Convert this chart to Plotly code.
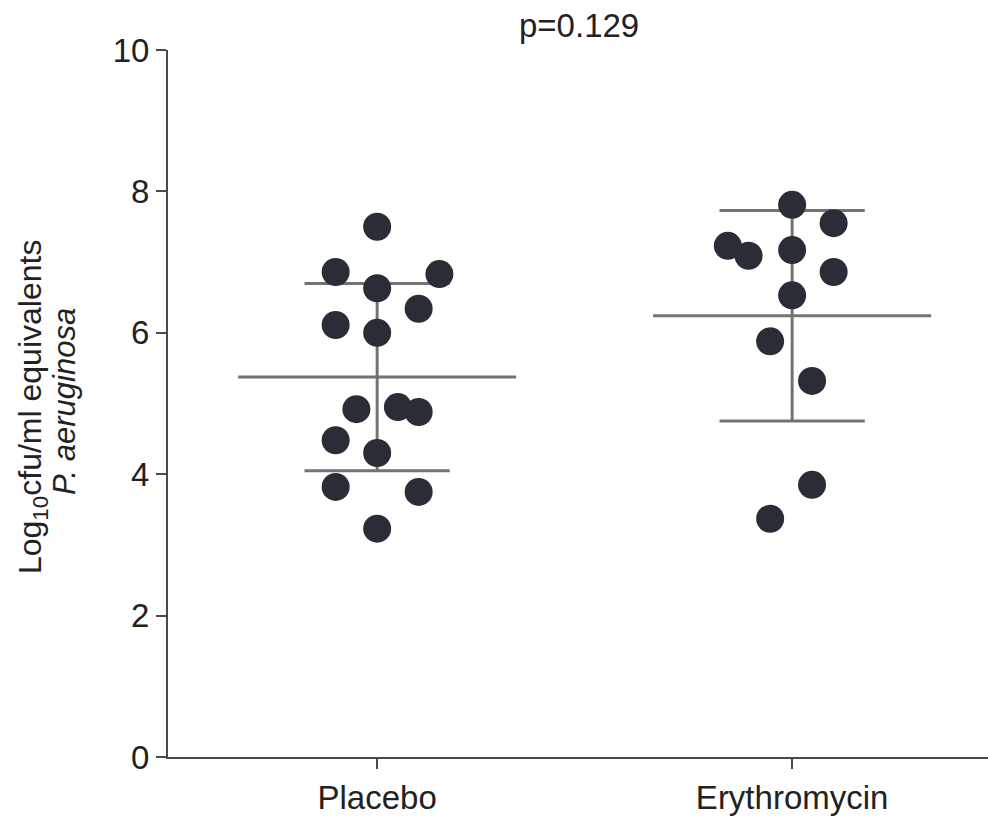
import numpy as np
import plotly.graph_objects as go

# Groups and their category positions on the x axis
groups = ["Placebo", "Erythromycin"]
group_pos = [0, 1]

# Log10 cfu/ml equivalents of P. aeruginosa per subject
placebo_vals = [7.50, 6.86, 6.83, 6.63, 6.34, 6.11, 6.00, 4.92, 4.95, 4.88,
                4.48, 4.30, 3.82, 3.75, 3.23]
erythro_vals = [7.81, 7.55, 7.23, 7.09, 7.17, 6.86, 6.53, 5.88, 5.32, 3.85, 3.37]

# Horizontal scatter offsets (category units) so overlapping points stay visible
placebo_jit = [0.0, -0.10, 0.15, 0.0, 0.10, -0.10, 0.0, -0.05, 0.05, 0.10,
               -0.10, 0.0, -0.10, 0.10, 0.0]
erythro_jit = [0.0, 0.10, -0.155, -0.105, 0.0, 0.10, 0.0, -0.053, 0.048, 0.048, -0.053]

p_text = "p=0.129"
y_title_1 = "Log<sub>10</sub>cfu/ml equivalents"
y_title_2 = "<i>P. aeruginosa</i>"
y_ticks = [0, 2, 4, 6, 8, 10]

FONT = "Arial, Liberation Sans, sans-serif"
TEXT = "#222222"
DOT = "#2a2d35"
BAR = "#737375"
AXIS = "#4a4a4a"

mean_half = 0.335   # half-width of the mean line
cap_half = 0.175    # half-width of the SD caps

fig = go.Figure()

series = [(placebo_vals, placebo_jit), (erythro_vals, erythro_jit)]

# Mean +/- SD lines, drawn beneath the points
for pos, (vals, _) in zip(group_pos, series):
    arr = np.array(vals)
    m = arr.mean()
    sd = arr.std(ddof=1)
    xs = [pos - mean_half, pos + mean_half, None,
          pos - cap_half, pos + cap_half, None,
          pos - cap_half, pos + cap_half, None,
          pos, pos]
    ys = [m, m, None,
          m + sd, m + sd, None,
          m - sd, m - sd, None,
          m - sd, m + sd]
    fig.add_trace(go.Scatter(x=xs, y=ys, mode="lines",
                             line=dict(color=BAR, width=3),
                             hoverinfo="skip", showlegend=False))

# Individual subject values
for pos, (vals, jit) in zip(group_pos, series):
    fig.add_trace(go.Scatter(
        x=[pos + j for j in jit], y=vals, mode="markers",
        marker=dict(color=DOT, size=28, line=dict(width=0)),
        showlegend=False))

fig.update_layout(
    width=988, height=818,
    margin=dict(l=168, r=0, t=50, b=61),
    paper_bgcolor="white", plot_bgcolor="white",
    font=dict(family=FONT, color=TEXT),
    xaxis=dict(
        range=[-0.504, 1.472],
        tickvals=group_pos, ticktext=groups,
        showgrid=False, zeroline=False,
        showline=True, linecolor=AXIS, linewidth=2,
        ticks="outside", ticklen=10, tickwidth=2, tickcolor=AXIS,
        tickfont=dict(size=33, family=FONT, color=TEXT),
    ),
    yaxis=dict(
        range=[0, 10],
        tickvals=y_ticks,
        showgrid=False, zeroline=False,
        showline=True, linecolor=AXIS, linewidth=2,
        ticks="outside", ticklen=10, tickwidth=2, tickcolor=AXIS,
        tickfont=dict(size=33, family=FONT, color=TEXT),
    ),
    annotations=[
        dict(text=p_text, xref="x", yref="paper", x=0.487, y=1.0,
             yanchor="middle", yshift=25, showarrow=False,
             font=dict(size=33, family=FONT, color=TEXT)),
        dict(text=y_title_1, xref="paper", yref="paper", x=0, y=0.495,
             xanchor="center", yanchor="middle", xshift=-136,
             textangle=-90, showarrow=False,
             font=dict(size=32, family=FONT, color=TEXT)),
        dict(text=y_title_2, xref="paper", yref="paper", x=0, y=0.502,
             xanchor="center", yanchor="middle", xshift=-104,
             textangle=-90, showarrow=False,
             font=dict(size=31, family=FONT, color=TEXT)),
    ],
)

fig.write_html("out.html")
